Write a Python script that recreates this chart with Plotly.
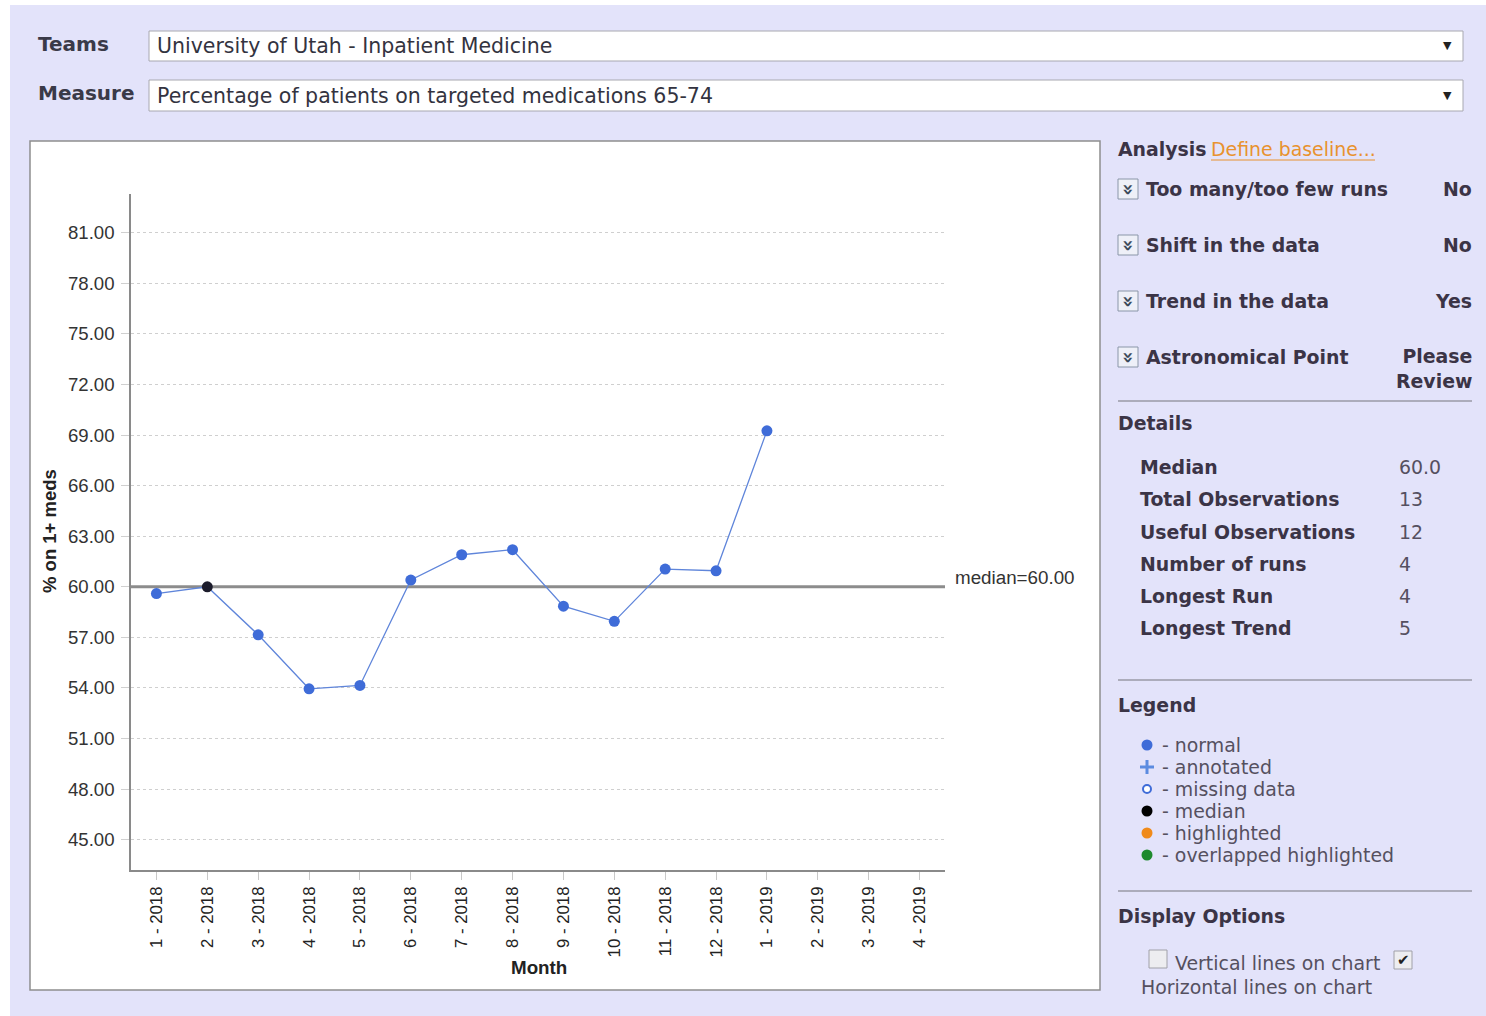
import plotly.graph_objects as go

# ---------------- data ----------------
months = ["1 - 2018", "2 - 2018", "3 - 2018", "4 - 2018", "5 - 2018", "6 - 2018",
          "7 - 2018", "8 - 2018", "9 - 2018", "10 - 2018", "11 - 2018", "12 - 2018",
          "1 - 2019", "2 - 2019", "3 - 2019", "4 - 2019"]
values = [59.6, 60.0, 57.15, 53.95, 54.15, 60.4, 61.9, 62.2, 58.85, 57.95, 61.05, 60.95, 69.25]
point_types = ["normal", "median", "normal", "normal", "normal", "normal", "normal",
               "normal", "normal", "normal", "normal", "normal", "normal"]
median_value = 60.0
y_ticks = [45, 48, 51, 54, 57, 60, 63, 66, 69, 72, 75, 78, 81]

team = "University of Utah - Inpatient Medicine"
measure = "Percentage of patients on targeted medications 65-74"

analysis_rows = [("Too many/too few runs", "No"), ("Shift in the data", "No"),
                 ("Trend in the data", "Yes"), ("Astronomical Point", "Please<br>Review")]
detail_labels = ["Median", "Total Observations", "Useful Observations",
                 "Number of runs", "Longest Run", "Longest Trend"]
detail_values = ["60.0", "13", "12", "4", "4", "5"]
legend_labels = ["normal", "annotated", "missing data", "median", "highlighted",
                 "overlapped highlighted"]

# ---------------- helpers ----------------
W, H = 1486, 1016
def px(x): return x / W
def py(y): return 1 - y / H

LAV = "#E3E3FA"
POINT_BLUE = "#3F6CD8"
type_colors = {"normal": POINT_BLUE, "median": "#1c1c2c"}
X_RANGE = [-0.5, len(months) - 0.5]

fig = go.Figure()

# median line (drawn first so points sit on top)
fig.add_trace(go.Scatter(
    x=X_RANGE, y=[median_value, median_value], mode="lines",
    line=dict(color="#8C8C8C", width=3), hoverinfo="skip", showlegend=False))

fig.add_trace(go.Scatter(
    x=list(range(len(values))), y=values, mode="lines+markers",
    line=dict(color="#5F85DA", width=1.3),
    marker=dict(size=11, color=[type_colors[t] for t in point_types]),
    hoverinfo="skip", showlegend=False, cliponaxis=False))

shapes = []
ann = []

# page background
shapes.append(dict(type="rect", xref="paper", yref="paper", x0=px(10), x1=px(1486),
                   y0=py(1016), y1=py(5), fillcolor=LAV, line=dict(width=0), layer="below"))
# chart box
shapes.append(dict(type="rect", xref="paper", yref="paper", x0=px(30), x1=px(1100),
                   y0=py(990), y1=py(141), fillcolor="white",
                   line=dict(color="#8E8E8E", width=1.5), layer="below"))
# dropdowns
for (y0, y1) in [(31, 61), (80, 111)]:
    shapes.append(dict(type="rect", xref="paper", yref="paper", x0=px(149), x1=px(1463),
                       y0=py(y1), y1=py(y0), fillcolor="white",
                       line=dict(color="#A8A8B0", width=1), layer="below"))

hdr_font = dict(family="DejaVu Sans", size=20.5, color="#333340")
ann.append(dict(x=px(38), y=py(44), text="<b>Teams</b>", xanchor="left", yanchor="middle",
                font=dict(family="DejaVu Sans", size=20, color="#3a3a48")))
ann.append(dict(x=px(38), y=py(93), text="<b>Measure</b>", xanchor="left", yanchor="middle",
                font=dict(family="DejaVu Sans", size=20, color="#3a3a48")))
ann.append(dict(x=px(157), y=py(46), text=team, xanchor="left", yanchor="middle", font=hdr_font))
ann.append(dict(x=px(157), y=py(96), text=measure, xanchor="left", yanchor="middle", font=hdr_font))
for yy in (45, 95):
    ann.append(dict(x=px(1447), y=py(yy), text="▼", xanchor="center", yanchor="middle",
                    font=dict(family="DejaVu Sans", size=11, color="#222")))

CH = "Liberation Sans"
# chart titles
ann.append(dict(x=px(539), y=py(967), text="<b>Month</b>", xanchor="center", yanchor="middle",
                font=dict(family=CH, size=18.8, color="#222")))
ann.append(dict(x=px(49), y=py(531), text="<b>% on 1+ meds</b>", textangle=-90,
                xanchor="center", yanchor="middle",
                font=dict(family=CH, size=18.5, color="#222")))
ann.append(dict(x=px(955), y=py(577), text=f"median={median_value:.2f}", xanchor="left",
                yanchor="middle", font=dict(family=CH, size=18.8, color="#333")))

# ---------------- right panel ----------------
PS = 18.9
P_BOLD = dict(family="DejaVu Sans", size=PS, color="#3b3446")
P_REG = dict(family="DejaVu Sans", size=PS, color="#555060")

ann.append(dict(x=px(1118), y=py(149), text="<b>Analysis</b>", xanchor="left", yanchor="middle",
                font=P_BOLD))
ann.append(dict(x=px(1211), y=py(149), text="Define baseline...", xanchor="left",
                yanchor="middle", font=dict(family="DejaVu Sans", size=PS, color="#E8922E")))
shapes.append(dict(type="line", xref="paper", yref="paper", x0=px(1211), x1=px(1375),
                   y0=py(160), y1=py(160), line=dict(color="#E8922E", width=1)))

row_y = [189, 245, 301, 357]
for (lab, val), yy in zip(analysis_rows, row_y):
    shapes.append(dict(type="rect", xref="paper", yref="paper", x0=px(1118), x1=px(1138),
                       y0=py(yy + 10), y1=py(yy - 10), fillcolor="#EEF0F8",
                       line=dict(color="#8A96A8", width=1)))
    ann.append(dict(x=px(1128.5), y=py(yy), text="<b>»</b>", textangle=90, xanchor="center",
                    yanchor="middle", font=dict(family="DejaVu Sans", size=19, color="#3b4a5a")))
    ann.append(dict(x=px(1146), y=py(yy), text=f"<b>{lab}</b>", xanchor="left",
                    yanchor="middle", font=P_BOLD))
    if "<br>" in val:
        ann.append(dict(x=px(1472), y=py(yy + 11), text=f"<b>{val}</b>", xanchor="right",
                        yanchor="middle", align="right", font=P_BOLD))
    else:
        ann.append(dict(x=px(1472), y=py(yy), text=f"<b>{val}</b>", xanchor="right",
                        yanchor="middle", font=P_BOLD))

for sy in (401, 680, 891):
    shapes.append(dict(type="line", xref="paper", yref="paper", x0=px(1118), x1=px(1472),
                       y0=py(sy), y1=py(sy), line=dict(color="#9A9AA6", width=1.5)))

ann.append(dict(x=px(1118), y=py(423), text="<b>Details</b>", xanchor="left", yanchor="middle",
                font=P_BOLD))
det_y = [467, 499, 532, 564, 596, 628]
for lab, val, yy in zip(detail_labels, detail_values, det_y):
    ann.append(dict(x=px(1140), y=py(yy), text=f"<b>{lab}</b>", xanchor="left",
                    yanchor="middle", font=P_BOLD))
    ann.append(dict(x=px(1399), y=py(yy), text=val, xanchor="left", yanchor="middle",
                    font=P_REG))

ann.append(dict(x=px(1118), y=py(705), text="<b>Legend</b>", xanchor="left", yanchor="middle",
                font=P_BOLD))
leg_y = [745, 767, 789, 811, 833, 855]
leg_colors = [POINT_BLUE, "#5B8BE0", POINT_BLUE, "#000000", "#F08A1A", "#1E8A2E"]
for lab, yy, col in zip(legend_labels, leg_y, leg_colors):
    cx, r = 1147, 5.5
    if lab == "annotated":
        shapes.append(dict(type="rect", xref="paper", yref="paper", x0=px(cx - 7), x1=px(cx + 7),
                           y0=py(yy + 1.5), y1=py(yy - 1.5), fillcolor=col, line=dict(width=0)))
        shapes.append(dict(type="rect", xref="paper", yref="paper", x0=px(cx - 1.5),
                           x1=px(cx + 1.5), y0=py(yy + 7), y1=py(yy - 7), fillcolor=col,
                           line=dict(width=0)))
    elif lab == "missing data":
        shapes.append(dict(type="circle", xref="paper", yref="paper", x0=px(cx - 4),
                           x1=px(cx + 4), y0=py(yy + 4), y1=py(yy - 4), fillcolor="white",
                           line=dict(color=col, width=2)))
    else:
        shapes.append(dict(type="circle", xref="paper", yref="paper", x0=px(cx - r),
                           x1=px(cx + r), y0=py(yy + r), y1=py(yy - r), fillcolor=col,
                           line=dict(width=0)))
    ann.append(dict(x=px(1162), y=py(yy), text=f"- {lab}", xanchor="left", yanchor="middle",
                    font=P_REG))

ann.append(dict(x=px(1118), y=py(916), text="<b>Display Options</b>", xanchor="left",
                yanchor="middle", font=P_BOLD))
# checkboxes
shapes.append(dict(type="rect", xref="paper", yref="paper", x0=px(1149), x1=px(1167),
                   y0=py(968), y1=py(950), fillcolor="#EDEDF0", line=dict(color="#A0A0A8", width=1)))
shapes.append(dict(type="rect", xref="paper", yref="paper", x0=px(1394), x1=px(1412),
                   y0=py(969), y1=py(951), fillcolor="#EDEDF0", line=dict(color="#A0A0A8", width=1)))
ann.append(dict(x=px(1403), y=py(960), text="✔", xanchor="center", yanchor="middle",
                font=dict(family="DejaVu Sans", size=15, color="#222")))
ann.append(dict(x=px(1175), y=py(963), text="Vertical lines on chart", xanchor="left",
                yanchor="middle", font=P_REG))
ann.append(dict(x=px(1141), y=py(987), text="Horizontal lines on chart", xanchor="left",
                yanchor="middle", font=P_REG))

for a in ann:
    a.setdefault("xref", "paper")
    a.setdefault("yref", "paper")
    a["showarrow"] = False
    a["borderpad"] = 0
    a["borderwidth"] = 0

fig.update_layout(
    width=W, height=H, margin=dict(l=0, r=0, t=0, b=0, pad=0),
    paper_bgcolor="white", plot_bgcolor="white",
    shapes=shapes, annotations=ann, showlegend=False,
    xaxis=dict(domain=[px(131), px(945)], range=X_RANGE,
               tickmode="array", tickvals=list(range(len(months))), ticktext=months,
               tickangle=-90, showgrid=False, zeroline=False,
               showline=True, linecolor="#8A8A8A", linewidth=1.5,
               ticks="outside", ticklen=8, tickcolor="#C8C8C8",
               tickfont=dict(family=CH, size=16.8, color="#222")),
    yaxis=dict(domain=[py(870), py(194)], range=[43.2, 83.3],
               tickmode="array", tickvals=y_ticks, tickformat=".2f",
               showgrid=True, gridcolor="#CFCFCF", griddash="dot", gridwidth=1,
               zeroline=False, showline=True, linecolor="#8A8A8A", linewidth=1.5,
               ticks="outside", ticklen=8, tickcolor="#D0D0D0", ticklabelstandoff=3,
               tickfont=dict(family=CH, size=18.6, color="#333")),
)

fig.write_html("out.html", config={"displayModeBar": False},
               post_script="document.body.style.margin='0';document.body.style.overflow='hidden';")
